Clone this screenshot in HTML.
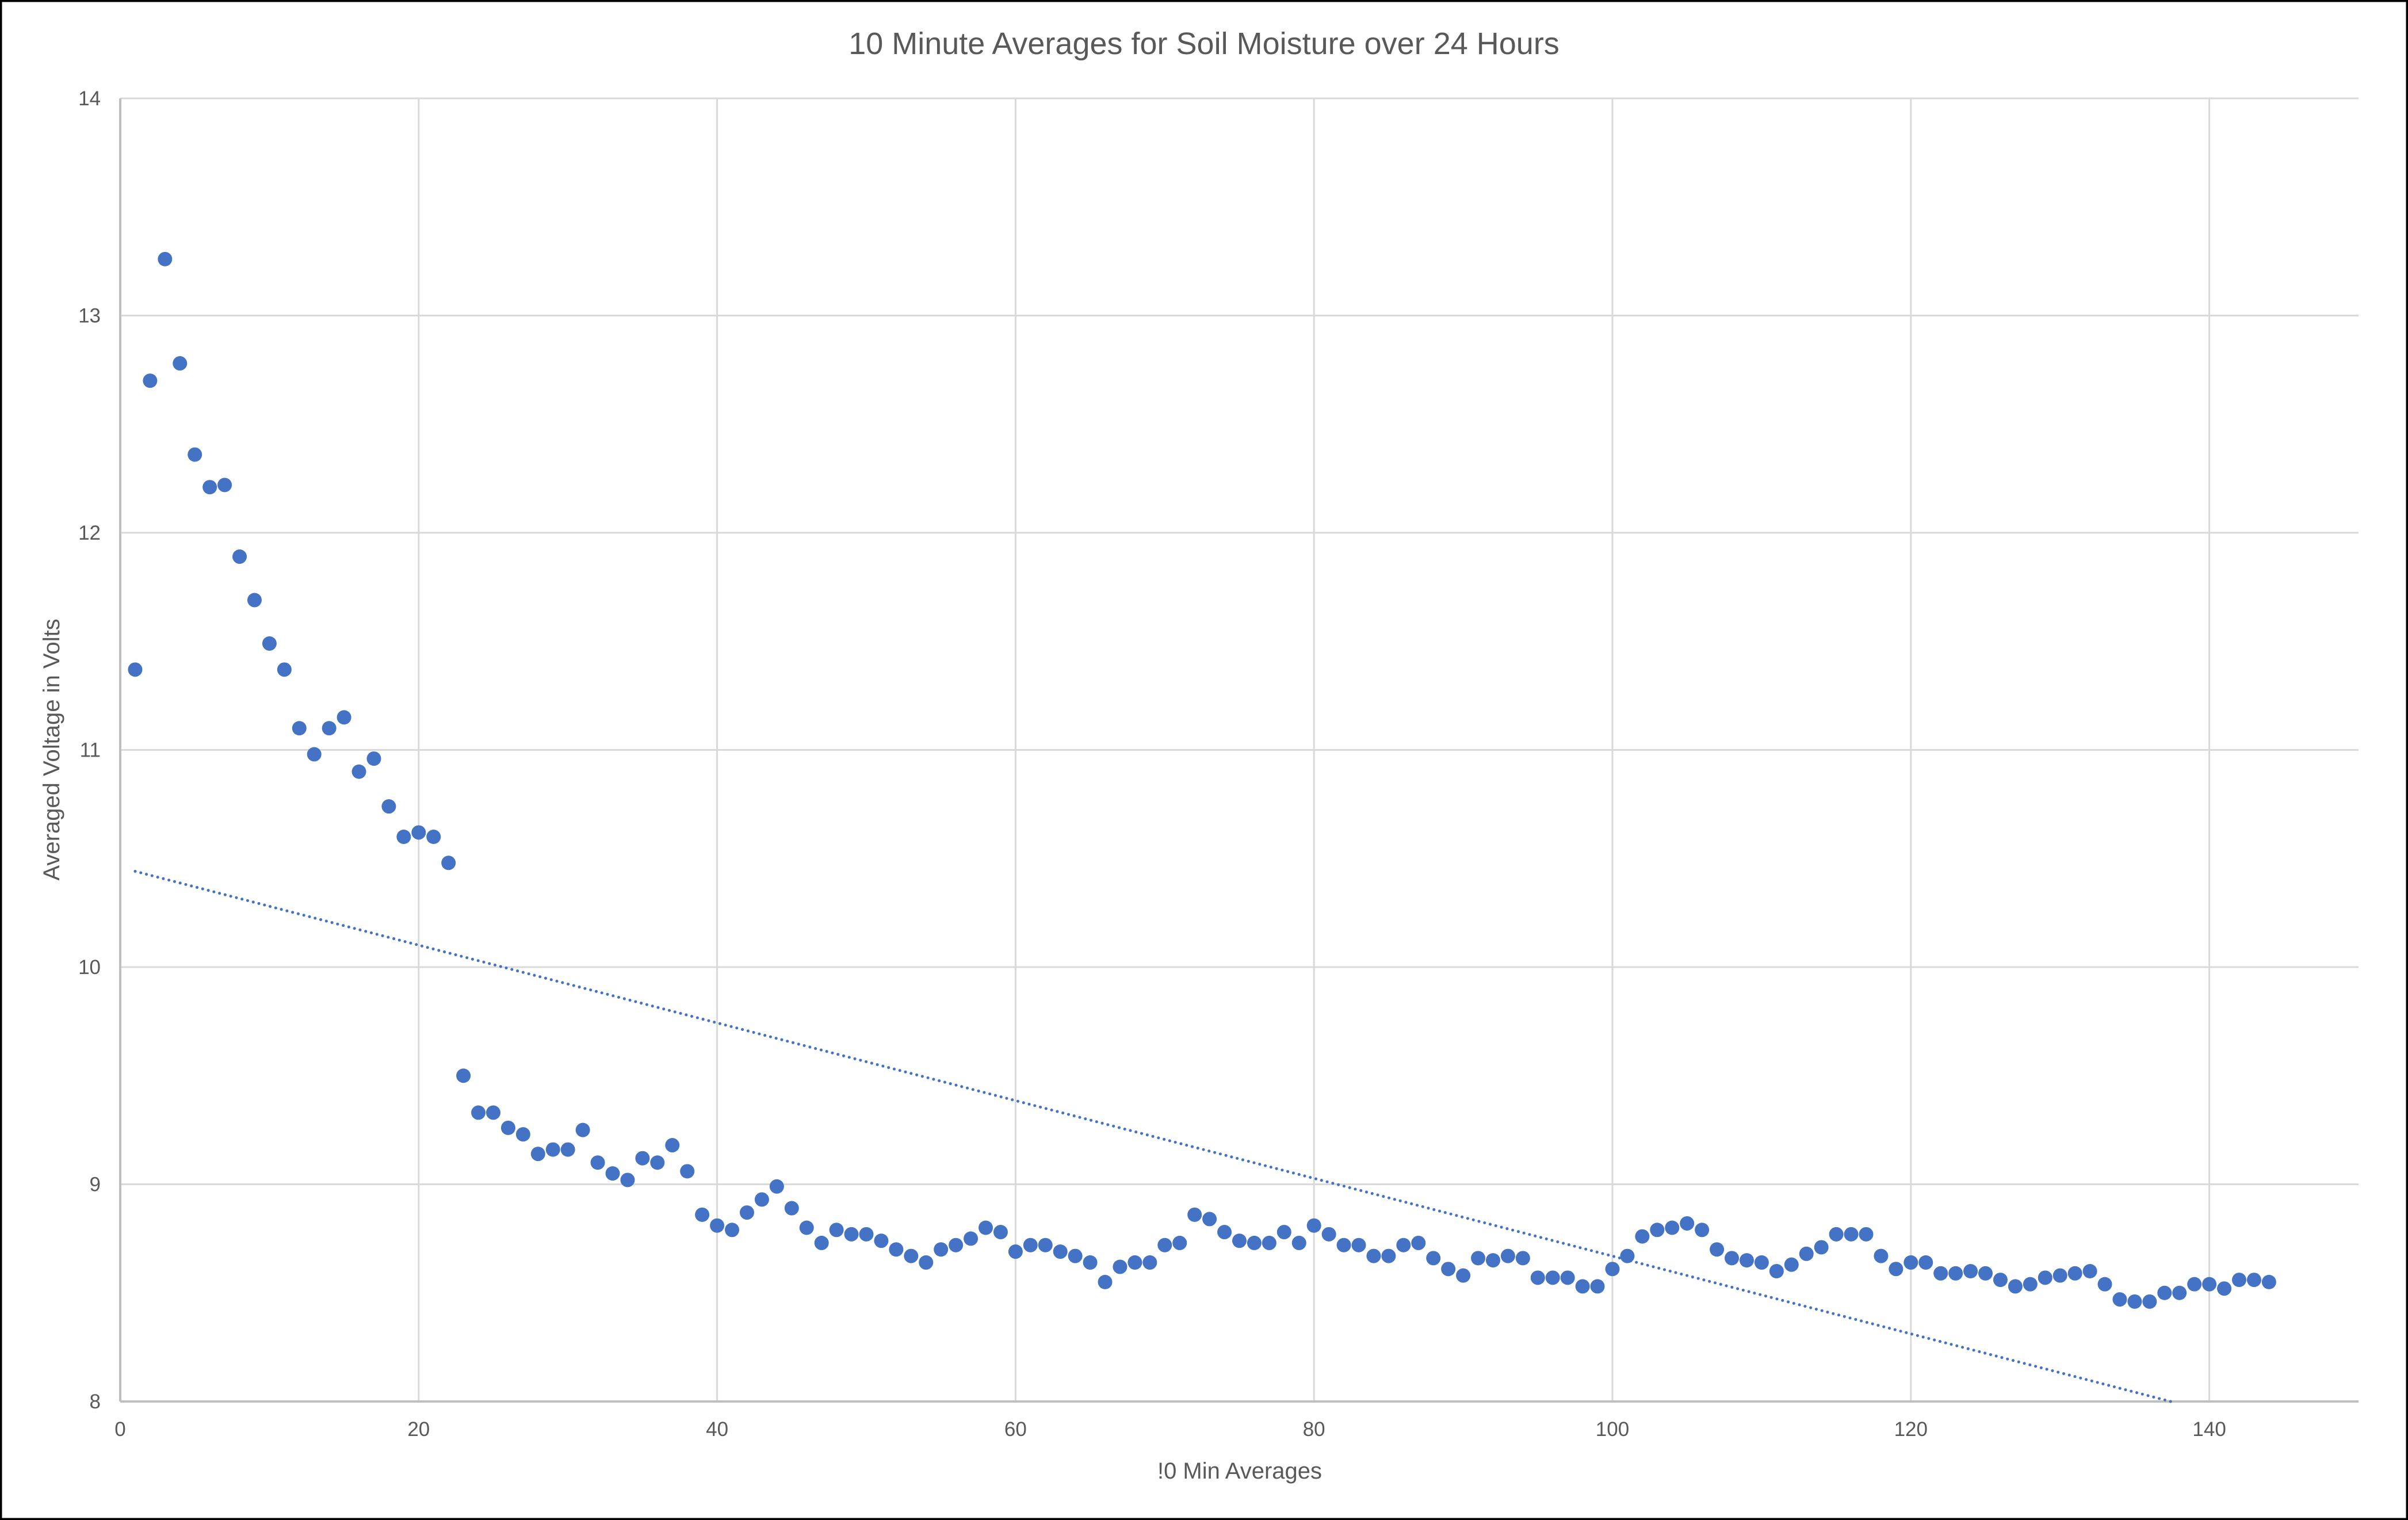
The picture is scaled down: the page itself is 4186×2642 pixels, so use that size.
<!DOCTYPE html>
<html><head><meta charset="utf-8"><style>
html,body{margin:0;padding:0;background:#fff}
svg{display:block}
text{font-family:"Liberation Sans",sans-serif;fill:#595959}
</style></head><body>
<svg id="chart" width="4186" height="2642" viewBox="0 0 4186 2642" xmlns="http://www.w3.org/2000/svg">
<rect x="1.5" y="1.5" width="4183" height="2639" fill="#fff" stroke="#000" stroke-width="4"/>
<text x="2093" y="94" font-size="54" text-anchor="middle">10 Minute Averages for Soil Moisture over 24 Hours</text>
<g id="grid"></g>
<g id="axes"></g>
<g id="trend"></g>
<g id="pts"></g>
<text x="2155" y="2570" font-size="40" text-anchor="middle">!0 Min Averages</text>
<text x="0" y="0" font-size="40" text-anchor="middle" transform="translate(103,1303) rotate(-90)">Averaged Voltage in Volts</text>
</svg>
<script>
const xTicks=[0,20,40,60,80,100,120,140];
const yTicks=[8,9,10,11,12,13,14];
const yValues=[11.37,12.70,13.26,12.78,12.36,12.21,12.22,11.89,11.69,11.49,11.37,11.10,10.98,11.10,11.15,10.90,10.96,10.74,10.60,10.62,10.60,10.48,9.50,9.33,9.33,9.26,9.23,9.14,9.16,9.16,9.25,9.10,9.05,9.02,9.12,9.10,9.18,9.06,8.86,8.81,8.79,8.87,8.93,8.99,8.89,8.80,8.73,8.79,8.77,8.77,8.74,8.70,8.67,8.64,8.70,8.72,8.75,8.80,8.78,8.69,8.72,8.72,8.69,8.67,8.64,8.55,8.62,8.64,8.64,8.72,8.73,8.86,8.84,8.78,8.74,8.73,8.73,8.78,8.73,8.81,8.77,8.72,8.72,8.67,8.67,8.72,8.73,8.66,8.61,8.58,8.66,8.65,8.67,8.66,8.57,8.57,8.57,8.53,8.53,8.61,8.67,8.76,8.79,8.80,8.82,8.79,8.70,8.66,8.65,8.64,8.60,8.63,8.68,8.71,8.77,8.77,8.77,8.67,8.61,8.64,8.64,8.59,8.59,8.60,8.59,8.56,8.53,8.54,8.57,8.58,8.59,8.60,8.54,8.47,8.46,8.46,8.50,8.50,8.54,8.54,8.52,8.56,8.56,8.55];
const xMin=0,xMax=150,yMin=8,yMax=14;
const L=209,R=4100,T=171,B=2436;
const sx=v=>L+(v-xMin)/(xMax-xMin)*(R-L);
const sy=v=>B-(v-yMin)/(yMax-yMin)*(B-T);
const NS="http://www.w3.org/2000/svg";
function mk(tag,attrs,parent){const e=document.createElementNS(NS,tag);for(const k in attrs)e.setAttribute(k,attrs[k]);parent.appendChild(e);return e;}
const grid=document.getElementById('grid'),axes=document.getElementById('axes');
yTicks.forEach(t=>{
  if(t!==yMin){const l=mk('line',{x1:L,x2:R,y1:sy(t),y2:sy(t),stroke:'#d9d9d9','stroke-width':3},grid);
  
  }
  const tx=mk('text',{x:L-34,y:sy(t)+12,'font-size':35,'text-anchor':'end'},axes);
  tx.textContent=t;
  
  
});
xTicks.forEach(t=>{
  if(t!==xMin){const l=mk('line',{x1:sx(t),x2:sx(t),y1:T,y2:B,stroke:'#d9d9d9','stroke-width':3},grid);
  
  }
  const tx=mk('text',{x:sx(t),y:B+60,'font-size':35,'text-anchor':'middle'},axes);
  tx.textContent=t;
  
  
});
const xa=mk('line',{x1:L,x2:R,y1:B,y2:B,stroke:'#bfbfbf','stroke-width':4},axes);


const ya=mk('line',{x1:L,x2:L,y1:T,y2:B,stroke:'#bfbfbf','stroke-width':4},axes);


// linear regression trendline
const n=yValues.length;let sX=0,sY=0,sXY=0,sXX=0;
yValues.forEach((y,i)=>{const x=i+1;sX+=x;sY+=y;sXY+=x*y;sXX+=x*x;});
const m=(n*sXY-sX*sY)/(n*sXX-sX*sX),b=(sY-m*sX)/n;
let x2=n,y2=m*n+b;if(y2<yMin){x2=(yMin-b)/m;y2=yMin;}
const tl=mk('line',{x1:sx(1),y1:sy(m+b),x2:sx(x2),y2:sy(y2),stroke:'#4472c4','stroke-width':5,'stroke-dasharray':'0.1 10','stroke-linecap':'round'},document.getElementById('trend'));


const pts=document.getElementById('pts');
yValues.forEach((y,i)=>{
  const c=mk('circle',{cx:sx(i+1),cy:sy(y),r:12.5,fill:'#4472c4'},pts);
  
  
});
</script>
</body></html>
